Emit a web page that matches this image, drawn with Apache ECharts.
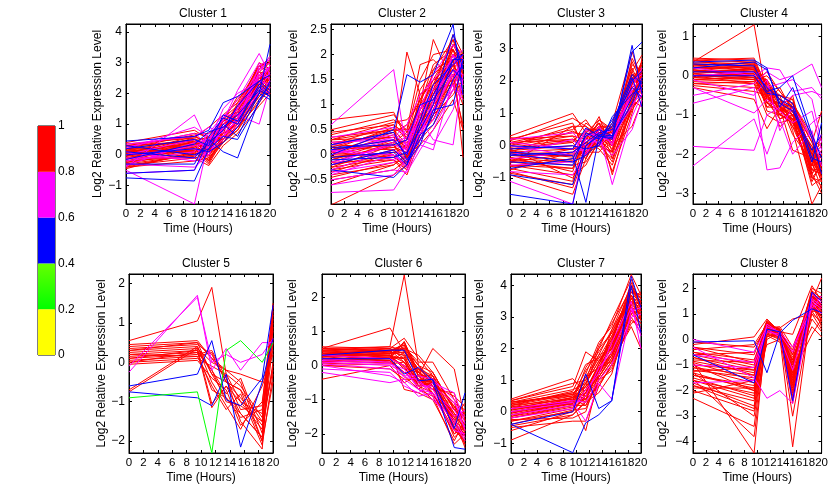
<!DOCTYPE html>
<html>
<head>
<meta charset="utf-8">
<script src="https://cdn.jsdelivr.net/npm/echarts@6/dist/echarts.min.js"></script>
<style>
  html, body { margin: 0; padding: 0; background: #fff; }
  #chart { width: 831px; height: 493px; }
</style>
</head>
<body>
<div id="chart"></div>
<script>
// ---------------- DATA ----------------
const hours = [0, 9.5, 11.5, 13.5, 15.5, 18.5, 20];
const clusterNames = ['Cluster 1', 'Cluster 2', 'Cluster 3', 'Cluster 4', 'Cluster 5', 'Cluster 6', 'Cluster 7', 'Cluster 8'];
const xAxisTitle = 'Time (Hours)';
const yAxisTitle = 'Log2 Relative Expression Level';
const colorbarTicks = [0, 0.2, 0.4, 0.6, 0.8, 1];

// Cluster 1
const c1Red = [
  [0.3, 0.6, 0.4, 1.0, 1.3, 2.4, 2.6], [0.2, 0.5, 0.1, 0.8, 1.2, 2.2, 2.9], [0.1, 0.4, 0.3, 0.9, 1.4, 2.6, 2.3],
  [0.0, 0.3, -0.2, 0.7, 1.1, 2.0, 2.5], [-0.1, 0.2, 0.0, 0.6, 1.0, 2.3, 2.8], [-0.2, 0.1, -0.3, 0.5, 0.9, 1.9, 2.2],
  [-0.3, 0.0, 0.2, 0.8, 1.5, 2.7, 3.0], [0.25, 0.7, 0.6, 1.2, 1.6, 2.9, 2.7], [0.15, 0.35, 0.5, 1.1, 1.3, 2.5, 2.4],
  [-0.05, 0.25, 0.3, 0.4, 0.8, 1.8, 2.1], [-0.15, 0.45, 0.0, 0.9, 1.2, 2.1, 2.6], [-0.35, -0.1, -0.35, 0.3, 0.7, 1.6, 2.0],
  [0.05, 0.15, 0.2, 0.6, 1.4, 2.8, 3.2], [0.35, 0.55, 0.9, 1.3, 1.7, 2.3, 2.5], [-0.25, 0.05, 0.1, 0.7, 1.0, 2.2, 2.3],
  [0.1, 0.3, -0.1, 0.5, 1.1, 2.4, 2.9], [-0.4, -0.2, -0.1, 0.4, 0.9, 2.0, 2.4], [0.2, 0.65, 0.7, 1.0, 1.5, 3.0, 2.8],
  [0.0, 0.1, 0.4, 0.8, 1.3, 2.6, 2.2], [-0.1, 0.35, 0.25, 1.2, 1.8, 2.5, 3.1], [0.4, 0.8, 0.5, 0.9, 1.4, 2.2, 2.0],
  [-0.3, 0.2, -0.25, 0.6, 1.2, 2.7, 2.6], [0.15, 0.5, 0.15, 0.7, 1.0, 1.9, 2.4], [-0.2, -0.05, 0.35, 1.0, 1.6, 2.4, 2.7],
  [0.05, 0.4, 0.6, 0.5, 1.2, 2.1, 1.9], [-0.45, 0.1, 0.1, 0.8, 1.4, 2.9, 3.0], [0.3, 0.45, -0.05, 0.6, 0.9, 1.7, 2.2],
  [-0.1, 0.15, 0.5, 1.1, 1.9, 2.3, 2.5], [0.2, 0.3, 0.0, 0.9, 1.3, 2.5, 2.8], [-0.2, 0.3, 0.45, 0.7, 1.1, 2.6, 2.4],
  [0.0, 0.55, 0.1, 1.1, 1.5, 2.2, 2.6], [-0.35, 0.0, 0.3, 0.9, 1.2, 2.8, 3.0], [0.1, 0.2, -0.2, 0.4, 1.0, 2.0, 2.2],
  [-0.25, 0.25, 0.6, 1.0, 1.3, 2.3, 2.9], [0.3, 0.4, 0.2, 0.8, 1.6, 2.7, 2.3], [-0.1, -0.1, 0.0, 0.6, 1.1, 2.5, 2.7],
  [0.05, 0.6, 0.4, 1.2, 1.4, 2.0, 2.5], [-0.4, 0.05, -0.15, 0.5, 0.8, 2.1, 2.6], [0.15, 0.1, 0.3, 0.7, 1.7, 2.9, 3.1],
  [-0.05, 0.5, 0.55, 1.0, 1.2, 2.4, 2.0]
];
const c1Magenta = [
  [-0.4, 1.3, 0.3, 0.8, 1.2, 2.0, 2.4], [-0.5, -1.6, 0.5, 1.0, 1.5, 2.5, 2.9], [0.2, 0.9, 0.6, 1.1, 2.1, 3.3, 2.6],
  [-0.2, 0.1, 0.7, 1.3, 1.3, 1.0, 2.2], [0.0, 0.5, 0.2, 0.6, 1.0, 2.9, 3.1], [-0.3, -0.4, 0.0, 0.9, 1.4, 2.2, 2.0],
  [0.35, 0.6, 0.9, 0.7, 1.1, 2.6, 2.8], [-0.15, 0.3, 0.4, 1.5, 2.0, 2.4, 2.3], [0.1, -0.2, 0.1, 0.5, 0.9, 2.1, 2.7],
  [-0.6, -0.5, 0.3, 0.8, 1.6, 2.8, 3.0], [0.0, 0.2, 0.0, 1.0, 1.5, 2.6, 2.5], [-0.35, 0.4, 0.5, 0.9, 1.3, 2.3, 2.9],
  [0.25, 0.7, 0.3, 1.2, 1.8, 3.0, 2.4], [-0.1, -0.1, 0.6, 0.6, 1.2, 2.7, 3.2]
];
const c1Blue = [
  [-0.75, -0.85, 0.2, 1.0, 0.6, 2.0, 3.6], [0.45, 0.6, 0.8, 1.7, 1.9, 2.4, 2.1], [0.2, 0.5, 0.3, 1.3, 1.1, 2.2, 1.9],
  [-0.6, -0.5, 0.5, 0.1, -0.1, 1.8, 2.3], [0.0, 0.2, 0.1, 0.4, 0.9, 2.0, 1.8], [-0.3, -0.3, 0.6, 1.2, 1.0, 2.3, 2.0],
  [0.3, 0.0, 0.2, 0.6, 0.5, 1.7, 2.4], [-0.15, 0.35, 0.75, 0.9, 1.3, 2.1, 1.9], [0.1, -0.1, 0.4, 0.8, 1.6, 2.4, 2.6]
];

// Cluster 2
const c2Red = [
  [0.7, 0.85, 0.3, 0.6, 0.9, 1.8, 1.5], [-1.0, -0.4, -0.2, 0.5, 1.0, 2.0, 1.7], [0.3, 0.5, 0.2, 0.8, 1.2, 1.9, 2.0],
  [0.1, 0.3, 0.0, 0.5, 0.8, 1.6, 1.3], [-0.1, 0.2, 2.05, 1.2, 1.5, 2.2, 1.9], [-0.2, 0.0, -0.3, 0.4, 0.7, 1.5, 1.2],
  [0.2, 0.6, 0.4, 1.0, 2.3, 1.4, 0.6], [-0.3, -0.1, -0.4, 0.3, 0.6, 1.3, 1.6], [0.0, 0.4, 0.1, 0.7, 1.1, 2.1, 1.8],
  [0.15, 0.1, -0.1, 0.6, 1.3, 1.7, 2.0], [-0.4, -0.2, 0.0, 0.2, 0.5, 1.1, 0.5], [0.4, 0.7, 0.5, 1.8, 1.9, 1.5, 1.0],
  [-0.05, 0.15, 0.3, 0.9, 1.4, 2.3, 1.9], [0.25, 0.35, 0.2, 0.4, 0.9, 1.9, -0.05], [-0.25, -0.05, -0.2, 0.5, 1.0, 1.8, 1.4],
  [0.05, 0.45, 0.6, 1.1, 1.6, 2.0, 1.7], [-0.15, 0.25, 0.1, 0.3, 0.8, 1.2, 1.5], [0.35, 0.5, -0.05, 0.7, 1.2, 2.2, 2.0],
  [-0.35, 0.05, 0.15, 0.6, 0.7, 1.6, 1.8], [0.1, 0.55, 0.35, 1.3, 1.7, 1.9, 1.1], [-0.5, -0.3, -0.1, 0.4, 1.1, 2.0, 1.6],
  [0.2, 0.15, 0.05, 0.8, 1.0, 1.4, 1.2], [0.5, 0.8, 0.45, 1.5, 2.0, 2.1, 1.8], [-0.1, 0.3, 0.25, 0.5, 1.3, 2.4, 2.0],
  [0.0, 0.0, -0.25, 0.7, 0.9, 1.7, 1.5], [-0.6, -0.2, 0.0, 0.6, 1.2, 1.8, 1.9], [0.3, 0.65, 0.7, 1.0, 1.4, 2.1, 1.6],
  [-0.2, 0.1, -0.15, 0.9, 1.5, 1.6, 0.5], [0.1, 0.2, -0.2, 0.6, 1.1, 1.8, 1.9], [-0.3, 0.1, 0.2, 0.8, 1.3, 2.0, 1.5],
  [0.2, 0.45, 0.1, 0.5, 0.9, 1.6, 1.7], [-0.15, -0.1, -0.3, 0.4, 1.0, 2.2, 1.8], [0.45, 0.6, 0.3, 1.1, 1.5, 1.8, 1.4],
  [0.0, 0.25, 0.45, 0.9, 1.2, 1.5, 2.0], [-0.45, -0.15, -0.05, 0.3, 0.8, 1.9, 1.7], [0.3, 0.35, 0.15, 0.7, 1.7, 2.3, 1.6],
  [-0.05, 0.05, 0.0, 1.2, 1.4, 1.7, 1.2], [0.15, 0.5, 0.5, 0.6, 1.0, 2.0, 1.9], [-0.25, 0.2, -0.1, 0.5, 1.3, 1.4, 1.8],
  [0.05, -0.05, 0.2, 1.0, 1.8, 2.1, 1.5]
];
const c2Magenta = [
  [0.6, 1.7, 0.0, 0.5, 1.0, 1.6, 1.8], [-0.75, -0.7, -0.3, 0.2, 0.1, 1.5, 1.9], [0.0, 0.3, 0.5, 0.4, 1.1, 2.0, 1.7],
  [-0.3, 0.1, -0.1, 0.3, 0.2, 0.9, 1.5], [0.2, 0.4, 0.2, 0.6, 1.4, 1.8, 2.0], [-0.5, -0.3, -0.35, 0.1, 0.5, 1.3, 1.2],
  [0.1, -0.1, 0.3, 0.7, 0.3, 0.2, 1.6], [-0.15, 0.2, 0.1, 1.0, 0.8, 1.7, 1.4], [0.35, 0.55, 0.4, 0.9, 1.6, 2.2, 1.9],
  [-0.4, 0.0, -0.2, 0.5, 0.7, 1.4, 1.1], [0.05, 0.35, 0.6, 1.2, 1.5, 1.9, 2.1], [-0.6, -0.4, -0.1, 0.3, 0.9, 1.6, 1.3],
  [0.25, 0.3, 0.0, 0.8, 1.2, 1.7, 1.6], [-0.2, 0.25, 0.35, 0.6, 0.9, 1.3, 1.9], [0.1, 0.0, -0.25, 0.4, 1.0, 2.0, 1.4],
  [-0.35, -0.15, 0.2, 0.9, 1.3, 1.8, 2.0]
];
const c2Blue = [
  [0.0, 0.5, 1.6, 1.45, 1.6, 2.6, 1.2], [-0.3, -0.45, -0.2, 0.6, 1.2, 1.9, 2.0], [0.2, 0.45, -0.1, 0.3, 0.8, 1.9, 1.9],
  [-0.1, -0.05, 0.05, 0.5, 1.0, 2.4, 1.7], [0.1, 0.3, 0.0, 0.7, 1.4, 1.8, 2.0], [-0.2, 0.1, -0.15, 0.2, 0.9, 1.0, 1.9],
  [0.15, 0.2, 0.3, 1.0, 1.1, 1.7, 1.5], [-0.05, 0.05, -0.2, 0.4, 0.6, 1.5, 1.8]
];

// Cluster 3
const c3Red = [
  [0.3, 1.0, 0.4, 0.8, 0.5, 2.2, 1.8], [0.2, 0.7, -0.2, 0.6, 0.3, 1.6, 2.2], [0.1, 0.5, 0.8, 0.2, 0.0, 1.2, 1.5],
  [0.0, 0.3, 0.2, 0.9, -0.2, 2.0, 2.5], [-0.1, 0.1, -0.4, 0.4, 0.4, 2.6, 1.9], [-0.2, -0.1, 0.0, 0.1, -0.5, 1.4, 2.0],
  [-0.3, -0.3, 0.5, 0.5, 0.2, 1.8, 1.6], [-0.4, -0.5, -0.3, 0.3, -0.8, 1.0, 2.3], [-0.5, -0.7, 0.1, 0.0, 0.6, 2.4, 1.7],
  [-0.6, -0.9, -0.6, 0.2, -0.3, 1.5, 2.1], [-0.7, -1.1, 0.3, 0.7, 0.0, 0.6, 1.4], [-0.8, -1.3, -0.2, -0.2, 0.3, 1.9, 2.6],
  [0.15, 0.85, 0.6, 0.3, 0.7, 2.9, 2.0], [-0.05, 0.2, -0.1, 0.6, -0.9, 1.3, 1.8], [-0.25, -0.2, 0.2, 0.4, 0.1, 2.1, 2.4],
  [-0.45, -0.6, -0.5, 0.1, 0.5, 1.7, 1.5], [-0.65, -0.4, 0.0, 0.8, 0.4, 2.3, 2.8], [0.05, 0.4, 0.35, 0.0, -0.4, 1.1, 1.6],
  [-0.15, 0.0, -0.3, 0.5, 0.2, 1.6, 2.2], [-0.35, -0.8, 0.4, 0.3, -0.1, 2.0, 1.9], [-0.55, 0.6, -0.1, 0.2, 0.3, 2.5, 2.3],
  [-0.9, -1.5, -0.4, 0.6, 0.6, 1.8, 2.0], [0.25, 0.1, 0.7, 0.4, 0.0, 1.4, 1.2], [-0.75, -0.2, 0.1, -0.1, -0.6, 1.2, 2.7],
  [-0.2, 0.45, 0.25, 0.7, 0.4, 2.2, 1.7], [-0.1, -1.0, -0.2, 0.3, 0.1, 1.9, 2.5], [0.1, 0.2, 0.1, 0.5, 0.3, 1.7, 2.0],
  [-0.3, -0.45, -0.1, 0.4, 0.0, 2.1, 1.8], [-0.6, -0.7, 0.3, 0.6, 0.5, 1.5, 2.4], [0.0, 0.6, 0.6, 0.2, -0.2, 2.3, 1.6],
  [-0.45, -0.1, -0.4, 0.3, 0.3, 1.9, 2.2], [-0.2, -0.35, 0.2, 0.7, -0.4, 1.2, 1.9], [0.2, 0.3, -0.2, 0.1, 0.2, 2.0, 2.6],
  [-0.85, -1.2, 0.0, 0.4, 0.4, 1.6, 1.7], [-0.1, 0.15, 0.45, 0.5, 0.1, 2.7, 2.1], [-0.5, -0.25, -0.25, 0.0, -0.2, 1.4, 2.3]
];
const c3Magenta = [
  [-1.1, -1.8, 0.3, 0.4, -1.2, 0.9, 1.6], [0.0, -0.3, 0.5, 0.2, 0.3, 1.2, 1.8], [-0.4, -0.2, -0.1, 0.6, 0.0, 1.7, 2.1],
  [0.2, 0.4, 0.0, 0.3, 0.5, 1.5, 1.9], [-0.6, -0.5, 0.2, 0.1, -0.3, 0.5, 1.4], [-0.3, 0.2, -0.3, 0.5, 0.2, 2.0, 2.2],
  [0.1, -0.1, 0.4, 0.0, 0.4, 1.3, 1.6], [-0.8, -0.9, -0.2, 0.3, 0.1, 1.8, 2.4]
];
const c3Blue = [
  [-1.5, -1.8, 0.0, 0.3, 0.2, 3.1, 1.6], [-0.9, -1.2, 0.0, 0.35, 0.3, 2.9, 3.2], [-0.2, -0.3, -1.75, 0.3, 0.6, 2.1, 1.2],
  [0.0, -0.1, 0.55, 0.3, 0.25, 1.5, 2.0], [-0.5, -0.6, 0.4, 0.2, 0.8, 1.8, 1.5], [-0.3, -0.2, 0.1, 0.4, 0.5, 2.0, 2.3],
  [-0.1, 0.0, -0.1, 0.0, 0.9, 1.6, 1.8], [-0.7, -0.4, 0.3, 0.5, 0.3, 1.3, 2.1], [-0.25, -0.5, -0.3, 0.1, 0.7, 2.2, 1.9]
];

// Cluster 4
const c4Red = [
  [0.45, 0.4, -0.3, -0.7, -0.9, -2.1, -2.5], [0.4, 0.35, -0.5, -0.8, -1.0, -2.3, -2.2], [0.3, 0.3, -0.2, -0.6, -0.8, -1.9, -2.6],
  [0.25, 0.2, -0.4, -0.9, -1.1, -2.5, -2.0], [0.2, 0.15, -0.6, -0.5, -0.7, -1.7, -2.4], [0.15, 0.1, -0.1, -1.0, -1.2, -2.6, -2.7],
  [0.1, 0.05, -0.7, -0.7, -0.6, -2.0, -1.8], [0.05, 0.0, -0.3, -1.1, -0.9, -2.2, -2.9], [0.0, -0.05, -0.8, -0.6, -1.0, -1.8, -2.3],
  [-0.05, -0.1, -0.5, -0.8, -1.3, -2.4, -2.0], [-0.1, -0.15, 0.1, -0.4, -0.8, -2.1, -2.5], [-0.15, -0.2, -1.0, -1.2, -1.1, -2.7, -2.2],
  [-0.2, -0.3, -0.4, -0.9, -0.7, -1.6, -2.6], [-0.3, -0.6, -1.35, -0.8, -1.0, -2.3, -1.5], [0.35, 1.3, -0.6, -0.7, -0.8, -2.0, -2.1],
  [0.2, 0.25, -0.2, -0.5, -1.4, -3.27, -2.8], [0.1, 0.3, -0.9, -1.0, -0.5, -2.5, -3.0], [-0.1, 0.0, -0.6, -0.7, -1.5, -2.2, -1.9],
  [0.3, 0.1, -0.3, -0.9, -0.7, -1.5, -2.4], [0.0, -0.2, -0.7, -0.3, -0.9, -2.0, -2.7], [-0.25, -0.4, -0.5, -1.0, -1.1, -2.6, -2.3],
  [0.15, -0.05, -0.1, -0.6, -1.3, -1.9, -1.6], [0.4, 0.15, -0.4, -0.5, -0.6, -2.4, -2.5], [-0.05, 0.05, -0.8, -0.8, -1.9, -2.1, -2.0],
  [0.25, 0.35, -0.45, -1.3, -1.0, -2.8, -2.6], [0.05, -0.1, 0.0, -0.4, -0.8, -1.7, -0.9], [0.35, 0.3, -0.25, -0.6, -0.9, -2.2, -2.3],
  [0.2, 0.2, -0.55, -0.8, -1.0, -2.0, -2.6], [0.1, 0.15, -0.35, -0.9, -0.8, -2.5, -2.2], [0.0, 0.05, -0.15, -0.7, -1.2, -1.8, -2.5],
  [-0.1, -0.05, -0.65, -1.1, -1.0, -2.3, -2.0], [0.3, 0.25, -0.5, -0.5, -0.7, -2.6, -2.8], [0.15, 0.0, -0.2, -0.8, -1.1, -2.0, -1.7],
  [-0.2, -0.15, -0.7, -0.9, -0.9, -2.4, -2.4], [0.4, 0.45, -0.3, -0.6, -1.2, -2.1, -2.7], [0.05, 0.2, -0.45, -1.0, -0.8, -1.9, -2.1]
];
const c4Magenta = [
  [-2.3, -1.1, -2.0, -1.1, -2.0, -1.4, -2.3], [-1.8, -1.9, -1.0, -0.8, -0.5, -0.4, -0.5], [-0.7, -0.3, -2.4, -2.35, -1.7, -1.2, -1.0],
  [-0.5, -0.2, 0.1, -0.1, 0.0, 0.3, -0.3], [0.0, 0.1, -0.3, -0.2, -0.1, -0.6, -1.7], [-0.3, -0.95, -0.6, -0.9, -1.2, -0.9, -1.9],
  [0.2, 0.0, 0.2, 0.15, -0.4, -0.3, -0.6], [-0.1, -0.5, -0.1, -1.4, -0.8, -1.6, -2.0]
];
const c4Blue = [
  [0.35, 0.4, 0.2, -0.8, -0.3, -1.6, -2.5], [0.3, 0.25, -0.4, -0.3, 0.0, -1.5, -2.1], [0.1, 0.1, -0.3, -0.6, -0.8, -2.2, -1.2],
  [0.0, 0.0, -0.45, -0.5, -0.7, -2.1, -2.2], [0.2, 0.35, 0.15, -0.7, -0.9, -1.9, -1.5]
];

// Cluster 5
const c5Red = [
  [0.55, 1.05, 1.9, -0.3, -1.0, -1.7, 1.5], [0.45, 0.55, 0.1, -0.4, -1.5, -2.2, 1.3], [0.4, 0.5, -0.3, -0.9, -1.3, -1.9, 0.9],
  [0.35, 0.45, 0.2, -0.5, -0.7, -1.5, 1.4], [0.3, 0.4, -0.5, -1.1, -1.7, -0.6, 0.2], [0.25, 0.35, 0.0, -0.2, -0.5, -2.0, -0.5],
  [0.2, 0.3, -1.15, -0.6, -1.0, -1.3, 1.1], [0.15, 0.25, -0.2, -0.8, -0.4, -1.8, 0.0], [0.1, 0.2, 0.3, -0.4, -1.2, -1.1, 1.45],
  [0.05, 0.15, -0.6, -1.2, -0.8, -2.1, -0.3], [0.0, 0.1, -0.1, -0.3, -0.6, -1.4, 0.6], [-0.05, 0.05, -0.4, -0.7, -1.6, -1.0, 1.0],
  [-0.7, 0.4, -0.3, -0.5, -0.9, -1.6, -0.1], [-0.75, 0.35, -1.05, -0.6, -1.3, -1.9, 0.5], [0.3, 0.5, 0.1, -0.2, -0.3, -0.5, 0.3],
  [0.1, 0.3, -0.2, -1.0, -1.1, -1.5, -0.2], [0.2, 0.15, 0.25, -0.5, -0.7, -2.0, 1.2], [0.0, 0.25, -0.7, -0.9, -1.4, -1.2, 0.8]
];
const c5Magenta = [
  [-0.25, 1.7, -0.2, 0.35, -0.2, 0.5, 0.5], [-0.1, 1.65, 0.0, 0.2, 0.0, 0.2, 0.6]
];
const c5Blue = [
  [-0.6, -0.3, 0.55, -0.95, -1.1, -0.4, 1.45], [-0.75, -0.9, -1.1, -0.3, -2.15, -0.5, 0.6]
];
const c5Green = [
  [-0.9, -0.75, -2.3, 0.3, 0.55, 0.0, 0.5]
];

// Cluster 6
const c6Red = [
  [0.55, 0.5, 0.8, 0.2, -0.3, -1.5, -1.8], [0.5, 1.1, 0.4, -0.1, -0.5, -1.2, -2.0], [0.45, 0.55, 2.65, 0.0, -0.6, -1.7, -1.4],
  [0.4, 0.45, 0.6, -0.3, 0.5, -0.1, -1.6], [0.35, 0.4, 0.3, -0.5, -0.4, -1.9, -2.2], [0.3, 0.35, 0.5, 0.3, -0.2, -1.3, -1.5],
  [0.25, 0.3, -0.1, -0.4, -0.7, -1.6, -2.4], [0.2, 0.25, 0.2, -0.6, -0.8, -2.0, -1.7], [0.15, 0.2, 0.7, -0.2, -0.5, -1.1, -1.3],
  [0.1, 0.15, -0.3, -0.7, -0.3, -1.8, -2.1], [0.05, 0.1, 0.4, -0.1, -0.9, -1.4, -1.9], [0.0, 0.05, 0.1, -0.5, -0.6, -0.9, -1.2],
  [-0.4, 0.0, -0.5, -0.3, -0.4, -1.7, -2.0], [0.5, 0.45, -0.7, -0.8, -1.0, -2.2, -1.6], [0.4, 0.35, 0.55, 0.1, 0.1, -1.0, -1.4],
  [0.3, 0.2, 0.0, -0.4, -0.5, -1.5, -2.3], [0.2, 0.4, 0.65, -0.2, -0.6, -2.1, -1.8], [0.1, 0.3, 0.2, -0.6, -0.2, -1.3, -1.5],
  [0.45, 0.5, 0.35, -0.3, -0.7, -0.8, -1.9], [0.35, 0.1, -0.2, -0.5, -0.8, -1.9, -1.7], [0.25, 0.45, 0.5, 0.0, -0.4, -1.4, -2.1],
  [0.15, 0.3, 0.1, -0.7, -0.9, -2.3, -2.0], [0.0, -0.1, -0.4, -0.4, -0.5, -1.6, -1.3], [0.5, 0.55, 0.45, -0.1, -0.3, -1.2, -1.6],
  [0.2, 0.25, 0.7, -0.3, -0.6, -1.8, -2.2], [0.3, 0.3, -0.05, -0.6, -1.0, -1.5, -1.1], [0.45, 0.4, 0.3, -0.2, -0.5, -1.6, -1.9],
  [0.35, 0.45, 0.1, -0.4, -0.6, -1.4, -1.7], [0.25, 0.35, 0.4, -0.1, -0.4, -1.9, -2.0], [0.15, 0.25, 0.0, -0.5, -0.7, -1.2, -1.5],
  [0.4, 0.3, 0.5, -0.3, -0.3, -1.7, -2.2], [0.3, 0.5, 0.2, -0.6, -0.5, -1.5, -1.4], [0.2, 0.15, -0.2, -0.3, -0.8, -2.0, -1.8],
  [0.5, 0.4, 0.6, 0.0, -0.2, -1.3, -1.6], [0.1, 0.2, 0.25, -0.45, -0.6, -1.8, -2.3], [0.35, 0.3, -0.1, -0.2, -0.45, -1.1, -1.9]
];
const c6Magenta = [
  [-0.2, -0.5, -0.4, -0.7, -1.0, -1.6, -2.1], [0.0, -0.3, -0.5, -0.9, -0.8, -1.3, -1.8], [0.1, 0.0, -0.2, -0.6, -0.6, -1.1, -1.5],
  [0.2, 0.1, -0.35, -0.4, -0.9, -1.9, -2.0], [-0.1, -0.2, -0.6, -0.8, -0.5, -0.8, -1.7], [0.3, 0.2, 0.0, -0.5, -0.7, -1.5, -1.3],
  [0.05, -0.1, -0.3, -0.3, -0.4, -1.0, -1.9], [0.15, 0.05, -0.1, -0.7, -0.8, -1.7, -2.2]
];
const c6Blue = [
  [0.3, 0.45, 0.45, -0.45, -0.4, -1.85, -0.8], [0.2, 0.2, -0.25, -0.05, -0.45, -2.4, -2.45]
];

// Cluster 7
const c7Red = [
  [0.4, 1.05, 0.6, 1.5, 2.3, 3.8, 3.4], [0.35, 0.8, 1.9, 1.6, 2.0, 3.5, 3.0], [0.3, 0.7, 0.9, 1.8, 2.6, 4.0, 3.6],
  [0.25, 0.6, 0.5, 1.2, 1.9, 3.3, 3.2], [0.2, 0.55, 1.1, 1.4, 2.1, 3.7, 2.9], [0.15, 0.5, 0.3, 1.0, 1.6, 3.1, 3.5],
  [0.1, 0.45, 0.8, 2.0, 2.9, 4.2, 3.3], [0.05, 0.4, 0.2, 0.9, 1.4, 2.9, 2.7], [0.0, 0.35, 1.0, 1.7, 2.4, 3.6, 3.8],
  [-0.05, 0.3, 0.6, 1.3, 1.8, 3.4, 3.1], [-0.1, 0.25, -0.6, 1.1, 1.7, 3.2, 2.8], [-0.15, 0.2, 0.7, 1.5, 2.2, 3.9, 3.4],
  [-0.2, 0.15, 0.4, 0.8, 1.5, 2.8, 3.0], [-0.3, 0.1, 1.2, 2.2, 2.7, 4.35, 3.7], [-0.4, 0.05, 0.1, 1.0, 1.3, 3.0, 2.5],
  [-0.6, 0.0, 0.5, 1.4, 2.0, 3.5, 3.3], [-0.9, -0.1, 0.3, 0.6, 1.2, 3.3, 2.9], [0.3, 0.5, 1.3, 1.9, 2.5, 3.6, 3.5],
  [0.1, 0.3, 0.9, 1.6, 2.2, 4.1, 3.2], [-0.25, -0.2, 0.0, 1.2, 1.9, 3.4, 2.6], [0.2, 0.65, 1.5, 1.7, 2.0, 3.8, 3.6],
  [-0.05, 0.45, 0.6, 1.1, 1.8, 3.1, 2.8], [0.15, 0.25, 0.8, 1.3, 2.6, 3.7, 3.3], [-0.5, -0.3, -0.3, 0.8, 1.5, 3.2, 3.1],
  [0.35, 0.9, 1.0, 2.1, 2.8, 3.9, 3.5], [-0.15, 0.35, 0.4, 1.4, 1.6, 2.7, 2.0], [0.2, 0.4, 0.7, 1.4, 2.1, 3.6, 3.2],
  [0.0, 0.25, 0.5, 1.2, 1.8, 3.5, 3.4], [-0.1, 0.3, 0.9, 1.6, 2.3, 3.9, 3.6], [0.3, 0.55, 0.4, 1.1, 1.7, 3.3, 2.9],
  [-0.3, 0.0, 0.6, 1.5, 2.4, 3.7, 3.1], [0.1, 0.45, 1.1, 1.8, 2.0, 3.4, 3.5], [-0.2, 0.2, 0.2, 1.0, 1.6, 3.1, 3.3],
  [0.25, 0.6, 0.8, 1.3, 2.2, 4.0, 3.4], [-0.45, -0.1, 0.35, 1.3, 1.9, 3.6, 3.0], [0.05, 0.35, 1.4, 2.0, 2.5, 3.8, 3.7]
];
const c7Magenta = [
  [0.0, 0.3, -0.3, 0.9, 0.4, 3.2, 3.3], [-0.1, 0.2, 0.5, 1.4, 1.9, 3.3, 2.4], [0.1, 0.35, 0.3, 1.0, 1.5, 3.0, 3.1],
  [-0.2, 0.1, 0.7, 1.2, 2.2, 3.5, 2.0]
];
const c7Blue = [
  [-0.4, 0.0, 1.2, 0.1, 0.35, 4.3, 3.3], [-0.4, -1.3, -0.35, -0.1, 0.35, 4.0, 2.5]
];

// Cluster 8
const c8Red = [
  [-0.2, 0.1, 0.8, 0.3, 0.2, 2.1, 1.5], [-0.4, -0.2, 0.6, 0.4, -0.5, 1.8, 1.2], [-0.6, -0.5, 0.7, 0.2, -0.8, 1.5, 2.4],
  [-0.8, -0.9, 0.5, 0.35, -1.2, 1.7, 1.0], [-1.0, -1.2, 0.4, 0.1, -1.5, 1.3, 0.8], [-1.2, -1.5, 0.3, 0.3, -2.0, 1.6, 1.4],
  [-1.4, -1.8, 0.2, 0.0, -1.0, 1.1, 0.6], [-1.6, -2.1, 0.6, 0.25, -2.3, 1.9, 1.3], [-1.8, -2.4, 0.5, 0.15, -1.7, 1.4, 0.9],
  [-2.0, -2.8, 0.0, 0.3, -0.7, 1.2, 1.1], [-2.3, -3.4, 0.35, 0.2, -1.9, 1.0, 0.7], [-0.9, -4.44, 0.7, 0.1, -4.2, 1.5, 1.0],
  [-1.3, -3.0, 0.1, 0.3, -1.4, 0.8, 0.3], [-0.5, -1.0, 0.45, 0.5, -0.3, 1.6, 1.7], [-0.7, -1.4, 0.65, 0.2, -2.5, 1.8, 1.2],
  [-1.1, -1.7, -0.2, 0.0, -1.1, 0.5, 0.1], [-1.5, -2.2, 0.55, 0.4, -0.9, 1.3, 0.9], [-1.9, -1.9, 0.25, 0.1, -1.6, 1.1, 1.5],
  [-0.3, -0.6, 0.75, 0.3, -0.6, 1.9, 1.6], [-1.7, -2.6, 0.4, 0.35, -2.1, 1.4, 0.5], [-2.1, -1.6, 0.15, -0.1, -1.3, 0.2, 0.8],
  [-1.0, -2.0, 0.3, 0.2, -3.0, 1.2, 1.3], [-0.1, -0.3, 0.5, 0.45, 0.8, 1.0, 0.4], [-1.25, -1.1, 0.6, 0.25, -0.4, 1.7, 1.1],
  [-1.55, -3.8, 0.2, 0.05, -1.8, 1.5, 0.7], [-0.85, -1.3, 0.45, 0.3, -1.0, 2.0, 1.8], [-0.5, -0.8, 0.55, 0.3, -1.3, 1.6, 1.2],
  [-0.9, -1.6, 0.4, 0.2, -0.8, 1.4, 1.0], [-1.3, -2.0, 0.65, 0.4, -1.8, 1.7, 1.4], [-0.7, -1.2, 0.3, 0.15, -1.5, 1.2, 0.9],
  [-1.6, -2.3, 0.5, 0.3, -1.1, 1.5, 1.3], [-0.3, -0.9, 0.7, 0.35, -0.9, 1.8, 1.5], [-1.1, -1.4, 0.2, 0.1, -2.2, 1.3, 0.8],
  [-1.8, -2.7, 0.45, 0.25, -1.4, 1.1, 1.1], [-0.6, -1.1, 0.6, 0.4, -0.6, 1.6, 1.6], [-1.4, -1.9, 0.35, 0.2, -1.6, 1.4, 1.2]
];
const c8Magenta = [
  [0.0, -0.5, 0.5, 0.3, -0.3, 1.2, 1.7], [-0.3, -1.5, -2.3, -2.0, -2.5, 1.4, 1.0], [-1.0, -1.1, 0.3, 0.2, -0.5, 1.6, 1.3],
  [-1.7, -1.6, 0.6, 0.25, -2.4, 1.8, 1.4], [-0.6, -0.9, 0.4, 0.1, -1.2, 1.5, 1.2]
];
const c8Blue = [
  [-0.1, -0.05, -1.3, 0.25, 0.75, 1.2, 1.05], [-0.6, -1.7, 0.4, 0.3, -2.4, 1.85, 1.5]
];

const clusters = [
  { red: c1Red, magenta: c1Magenta, blue: c1Blue, green: [] },
  { red: c2Red, magenta: c2Magenta, blue: c2Blue, green: [] },
  { red: c3Red, magenta: c3Magenta, blue: c3Blue, green: [] },
  { red: c4Red, magenta: c4Magenta, blue: c4Blue, green: [] },
  { red: c5Red, magenta: c5Magenta, blue: c5Blue, green: c5Green },
  { red: c6Red, magenta: c6Magenta, blue: c6Blue, green: [] },
  { red: c7Red, magenta: c7Magenta, blue: c7Blue, green: [] },
  { red: c8Red, magenta: c8Magenta, blue: c8Blue, green: [] }
];

// ---------------- LAYOUT / STYLE ----------------
const FONT = 'Liberation Sans, Arial, Helvetica, sans-serif';
const panels = [
  { left: 126, top: 24,  width: 144, height: 180, yMin: -1.6,  yMax: 4.26, step: 1,   split: 5, nameGap: 22 },
  { left: 331, top: 24,  width: 132, height: 180, yMin: -0.98, yMax: 2.61, step: 0.5, split: 7, nameGap: 28 },
  { left: 510, top: 24,  width: 132, height: 180, yMin: -1.8,  yMax: 3.76, step: 1,   split: 5, nameGap: 25 },
  { left: 693, top: 24,  width: 132, height: 180, yMin: -3.27, yMax: 1.32, step: 1,   split: 5, nameGap: 24 },
  { left: 129, top: 274, width: 144, height: 179, yMin: -2.3,  yMax: 2.24, step: 1,   split: 5, nameGap: 20 },
  { left: 322, top: 274, width: 143, height: 179, yMin: -2.56, yMax: 2.68, step: 1,   split: 5, nameGap: 23 },
  { left: 511, top: 274, width: 130, height: 179, yMin: -1.31, yMax: 4.37, step: 1,   split: 5, nameGap: 25 },
  { left: 693, top: 274, width: 132, height: 179, yMin: -4.44, yMax: 2.56, step: 1,   split: 5, nameGap: 24 }
];
const lineColors = { red: '#ff0000', magenta: '#ff00ff', blue: '#0000ff', green: '#00ff00' };
const colorOrder = ['red', 'magenta', 'blue', 'green'];
const colorbarColors = ['#ffff00', { type: 'linear', x: 0, y: 0, x2: 0, y2: 1, colorStops: [{ offset: 0, color: '#66ff00' }, { offset: 1, color: '#00ff00' }] }, '#0000ff', '#ff00ff', '#ff0000'];
const colorbarBox = { left: 38, top: 126, width: 17, height: 229 };

const grid = [], xAxis = [], yAxis = [], series = [], title = [];
const textBase = { color: '#000', fontFamily: FONT };
const lineBlack = { show: true, onZero: false, lineStyle: { color: '#000', width: 1 } };
const tickIn = { show: true, inside: true, length: 3, lineStyle: { color: '#000' } };

panels.forEach((p, i) => {
  grid.push({ left: p.left, top: p.top, width: p.width, height: p.height, show: true, borderColor: '#000', borderWidth: 1, backgroundColor: 'transparent', containLabel: false });
  const xi = xAxis.length, yi = yAxis.length;
  xAxis.push({
    gridIndex: i, type: 'value', min: 0, max: 20, interval: 2, position: 'bottom',
    name: xAxisTitle, nameLocation: 'middle', nameGap: 19,
    nameTextStyle: Object.assign({ fontSize: 12 }, textBase),
    axisLine: lineBlack, axisTick: tickIn,
    axisLabel: Object.assign({ fontSize: 11.5, margin: 4, showMinLabel: true, showMaxLabel: true, hideOverlap: false }, textBase),
    splitLine: { show: false }
  });
  xAxis.push({
    gridIndex: i, type: 'value', min: 0, max: 20, interval: 2, position: 'top',
    axisLine: lineBlack, axisTick: tickIn,
    axisLabel: { show: false }, splitLine: { show: false }
  });
  const fmt = v => {
    const r = v / p.step;
    if (Math.abs(r - Math.round(r)) > 1e-6) return '';
    return String(+v.toFixed(2)).replace('-', '\u2212');
  };
  yAxis.push({
    gridIndex: i, type: 'value', min: p.yMin, max: p.yMax, splitNumber: p.split, position: 'left',
    name: yAxisTitle, nameLocation: 'middle', nameGap: p.nameGap, nameRotate: 90,
    nameTextStyle: Object.assign({ fontSize: 12 }, textBase),
    axisLine: lineBlack, axisTick: tickIn,
    axisLabel: Object.assign({ fontSize: 12, margin: 4, formatter: fmt, showMinLabel: true, showMaxLabel: true }, textBase),
    splitLine: { show: false }
  });
  yAxis.push({
    gridIndex: i, type: 'value', min: p.yMin, max: p.yMax, splitNumber: p.split, position: 'right',
    axisLine: lineBlack, axisTick: tickIn,
    axisLabel: { show: false }, splitLine: { show: false }
  });
  title.push({
    text: clusterNames[i], left: p.left + p.width / 2, top: p.top - 21, textAlign: 'center',
    textStyle: Object.assign({ fontSize: 12, fontWeight: 'normal' }, textBase)
  });
  colorOrder.forEach(c => {
    clusters[i][c].forEach(vals => {
      series.push({
        type: 'line', xAxisIndex: xi, yAxisIndex: yi,
        data: hours.map((h, k) => [h, vals[k]]),
        symbol: 'none', silent: true, animation: false, clip: true,
        lineStyle: { color: lineColors[c], width: 1 }
      });
    });
  });
});

// Colorbar
const cbIndex = grid.length;
grid.push(Object.assign({ show: true, borderColor: '#000', borderWidth: 1, backgroundColor: 'transparent' }, colorbarBox));
const cbx = xAxis.length, cby = yAxis.length;
xAxis.push({ gridIndex: cbIndex, type: 'category', data: [''], axisLine: { show: false }, axisTick: { show: false }, axisLabel: { show: false } });
yAxis.push({
  gridIndex: cbIndex, type: 'value', min: 0, max: 1, interval: 0.2, position: 'right',
  axisLine: { show: false }, axisTick: { show: false }, splitLine: { show: false },
  axisLabel: Object.assign({ fontSize: 12, margin: 3 }, textBase)
});
colorbarTicks.slice(1).forEach((t, k) => {
  series.push({
    type: 'bar', xAxisIndex: cbx, yAxisIndex: cby, stack: 'cb', barWidth: '100%',
    data: [+(t - colorbarTicks[k]).toFixed(4)], silent: true, animation: false,
    itemStyle: { color: colorbarColors[k] }
  });
});

const chart = echarts.init(document.getElementById('chart'), null, { renderer: 'canvas' });
chart.setOption({ animation: false, backgroundColor: '#fff', title, grid, xAxis, yAxis, series });
</script>
</body>
</html>
